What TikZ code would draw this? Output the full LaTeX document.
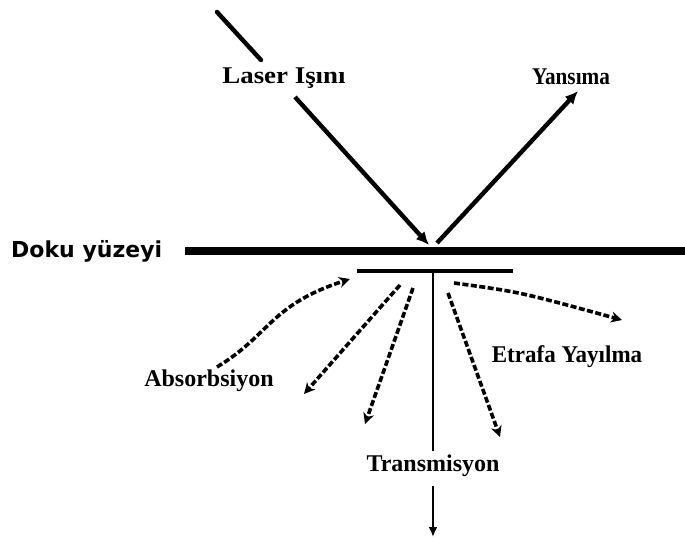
\documentclass[tikz,border=0pt]{standalone}
\usepackage{fontspec}
\setmainfont{Liberation Serif}
\newfontfamily\labelsans{DejaVu Sans}
\usetikzlibrary{arrows.meta}
\begin{document}
\begin{tikzpicture}[x=1pt,y=-1pt,
  lbl/.style={inner sep=0pt, font=\fontsize{24}{28}\selectfont\bfseries},
  ray/.style={line width=4.4pt, -{Latex[length=13pt,width=12pt]}},
  plainray/.style={line width=4.4pt, line cap=round},
  surface/.style={line width=8pt},
  layer/.style={line width=4.5pt},
  scatter/.style={line width=3.6pt, dash pattern=on 6pt off 2.5pt,
                  -{Stealth[length=11pt,width=11pt]}},
  beam/.style={line width=2.8pt}]
\useasboundingbox (0,0) rectangle (685,538);
\fill[white] (0,0) rectangle (685,538);

% labels
\node[lbl] (laser) at (284,78) {\scalebox{1.12}[1]{Laser Işını}};
\node[lbl] (yans) at (571,77) {\scalebox{0.885}[1]{Yansıma}};
\node[lbl] (abs) at (209,381) {Absorbsiyon};
\node[lbl] (etr) at (567,357) {\scalebox{0.96}[1]{Etrafa Yayılma}};
\node[lbl] (trans) at (433,466) {Transmisyon};
\node[font=\labelsans\fontsize{22}{26}\selectfont\bfseries, inner sep=0pt, anchor=west] (doku) at (11,251) {Doku yüzeyi};

% tissue surface and the layer below it
\coordinate (sL) at (185,251);
\coordinate (sR) at (685,251);
\draw[surface] (sL) -- (sR);
\coordinate (lL) at (357,271);
\coordinate (lR) at (513,271);
\draw[layer] (lL) -- (lR);

% incoming laser beam and reflection
\coordinate (inA) at (217,12);
\coordinate (inB) at (261,60);
\draw[plainray] (inA) -- (inB);
\coordinate (inC) at (295,97);
\coordinate (hit) at (429,245);
\draw[ray] (inC) -- (hit);
\coordinate (refA) at (437,243);
\coordinate (refB) at (578,91);
\draw[ray] (refA) -- (refB);

% transmitted beam
\coordinate (tA) at (433,271);
\coordinate (tB) at (433,451);
\coordinate (tC) at (433,486);
\coordinate (tD) at (433,537);
\draw[beam] (tA) -- (tB);
\draw[beam, -{Latex[length=10pt,width=9pt]}] (tC) -- (tD);

% scattered paths
\coordinate (a0) at (217,367);
\coordinate (a1) at (350,279);
\draw[scatter] (a0) .. controls (270,335) and (270,305) .. (a1);
\coordinate (d1s) at (400,285);
\coordinate (d1e) at (304,394);
\draw[scatter] (d1s) -- (d1e);
\coordinate (d2s) at (413,288);
\coordinate (d2e) at (365,424);
\draw[scatter] (d2s) -- (d2e);
\coordinate (d3s) at (448,293);
\coordinate (d3e) at (500,437);
\draw[scatter] (d3s) -- (d3e);
\coordinate (d4s) at (454,283);
\coordinate (d4e) at (622,320);
\draw[scatter] (d4s) .. controls (520,292) .. (d4e);
\end{tikzpicture}
\end{document}
